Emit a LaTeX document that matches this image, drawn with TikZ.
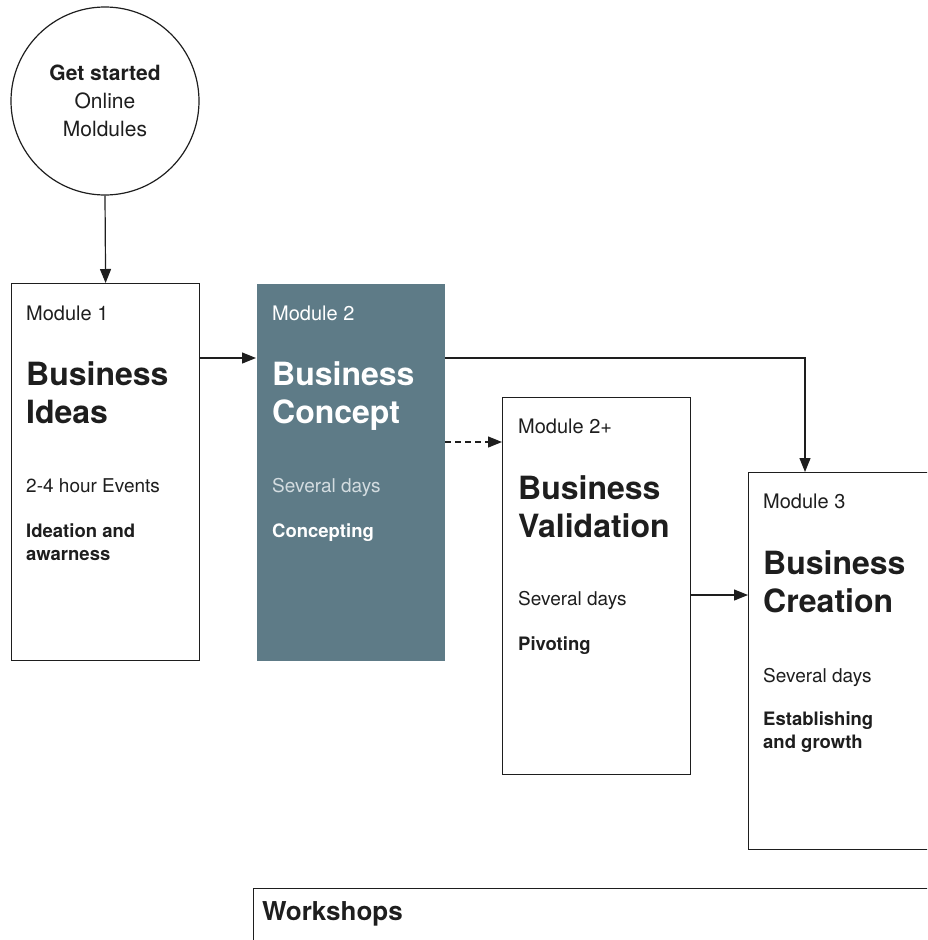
\documentclass[tikz,border=0pt]{standalone}
\usepackage{fontspec}
\setmainfont{TeX Gyre Heros}
\usetikzlibrary{arrows.meta}

\definecolor{slate}{HTML}{5E7B87}
\definecolor{ink}{HTML}{1E1E1E}
\definecolor{mist}{HTML}{D3DCE0}

\tikzset{
  modbox/.style={draw=ink, line width=1.2pt, anchor=north west, minimum width=188pt, minimum height=377pt, inner sep=0pt},
  modtag/.style={anchor=base west, inner sep=0pt, text=ink, font=\fontsize{20}{24}\selectfont},
  modtitle/.style={anchor=base west, inner sep=0pt, align=left, text=ink, font=\bfseries\fontsize{32}{38}\selectfont},
  modtime/.style={anchor=base west, inner sep=0pt, text=ink, font=\fontsize{19}{23}\selectfont},
  modgoal/.style={anchor=base west, inner sep=0pt, align=left, text=ink, font=\bfseries\fontsize{18.5}{23}\selectfont},
  link/.style={draw=ink, line width=1.2pt, -{Triangle[length=14pt,width=11pt]}},
}

\begin{document}
\begin{tikzpicture}[x=1pt,y=1pt]
    \useasboundingbox (0,0) rectangle (927,-940);
    \clip (0,0) rectangle (927,-940);
    % start
    \node[circle, draw=ink, line width=1.2pt, minimum size=188pt, align=center, text=ink, font=\fontsize{21}{28}\selectfont] (start) at (105,-101) {\textbf{Get started}\\Online\\Moldules};
    % module 1 (two-line texts are set on their last line)
    \node[modbox] (m1) at (11,-283) {};
    \node[modtag] (m1tag) at ([shift={(15,-37)}]m1.north west) {Module 1};
    \node[modtitle] (m1title) at ([shift={(15,-140)}]m1.north west) {Business\\Ideas};
    \node[modtime] (m1time) at ([shift={(15,-209)}]m1.north west) {2-4 hour Events};
    \node[modgoal] (m1goal) at ([shift={(15,-277)}]m1.north west) {Ideation and\\awarness};
    % module 2
    \node[modbox, draw=none, fill=slate] (m2) at (256,-283) {};
    \node[modtag, text=white] (m2tag) at ([shift={(16,-37)}]m2.north west) {Module 2};
    \node[modtitle, text=white] (m2title) at ([shift={(16,-140)}]m2.north west) {Business\\Concept};
    \node[modtime, text=mist] (m2time) at ([shift={(16,-209)}]m2.north west) {Several days};
    \node[modgoal, text=white] (m2goal) at ([shift={(16,-254)}]m2.north west) {Concepting};
    % module 2+
    \node[modbox] (mv) at (502,-397) {};
    \node[modtag] (mvtag) at ([shift={(16,-36)}]mv.north west) {Module 2+};
    \node[modtitle] (mvtitle) at ([shift={(16,-140)}]mv.north west) {Business\\Validation};
    \node[modtime] (mvtime) at ([shift={(16,-208)}]mv.north west) {Several days};
    \node[modgoal] (mvgoal) at ([shift={(16,-253)}]mv.north west) {Pivoting};
    % module 3
    \node[modbox, minimum width=240pt] (m3) at (748,-472) {};
    \node[modtag] (m3tag) at ([shift={(15,-36)}]m3.north west) {Module 3};
    \node[modtitle] (m3title) at ([shift={(15,-140)}]m3.north west) {Business\\Creation};
    \node[modtime] (m3time) at ([shift={(15,-210)}]m3.north west) {Several days};
    \node[modgoal] (m3goal) at ([shift={(15,-276)}]m3.north west) {Establishing\\and growth};
    % workshops
    \node[draw=ink, line width=1.2pt, anchor=north west, minimum width=720pt, minimum height=120pt] (ws) at (253,-888) {};
    \node[anchor=base west, inner sep=0pt, text=ink, font=\bfseries\fontsize{26}{30}\selectfont] (wstitle) at ([shift={(9,-32)}]ws.north west) {Workshops};
    % links
    \coordinate (m2in) at ([yshift=-75pt]m2.north west);
    \coordinate (m3in) at ([xshift=57pt]m3.north west);
    \coordinate (mvin) at ([yshift=-45pt]mv.north west);
    \coordinate (m3side) at ([yshift=-123pt]m3.north west);
    \draw[link] (start.south) -- (m1.north);
    \draw[link] (m1.east |- m2in) -- (m2in);
    \draw[link] (m2.east |- m2in) -| (m3in);
    \draw[link, dash pattern=on 6pt off 4pt] (m2.east |- mvin) -- (mvin);
    \draw[link] (mv.east |- m3side) -- (m3side);
\end{tikzpicture}
\end{document}
